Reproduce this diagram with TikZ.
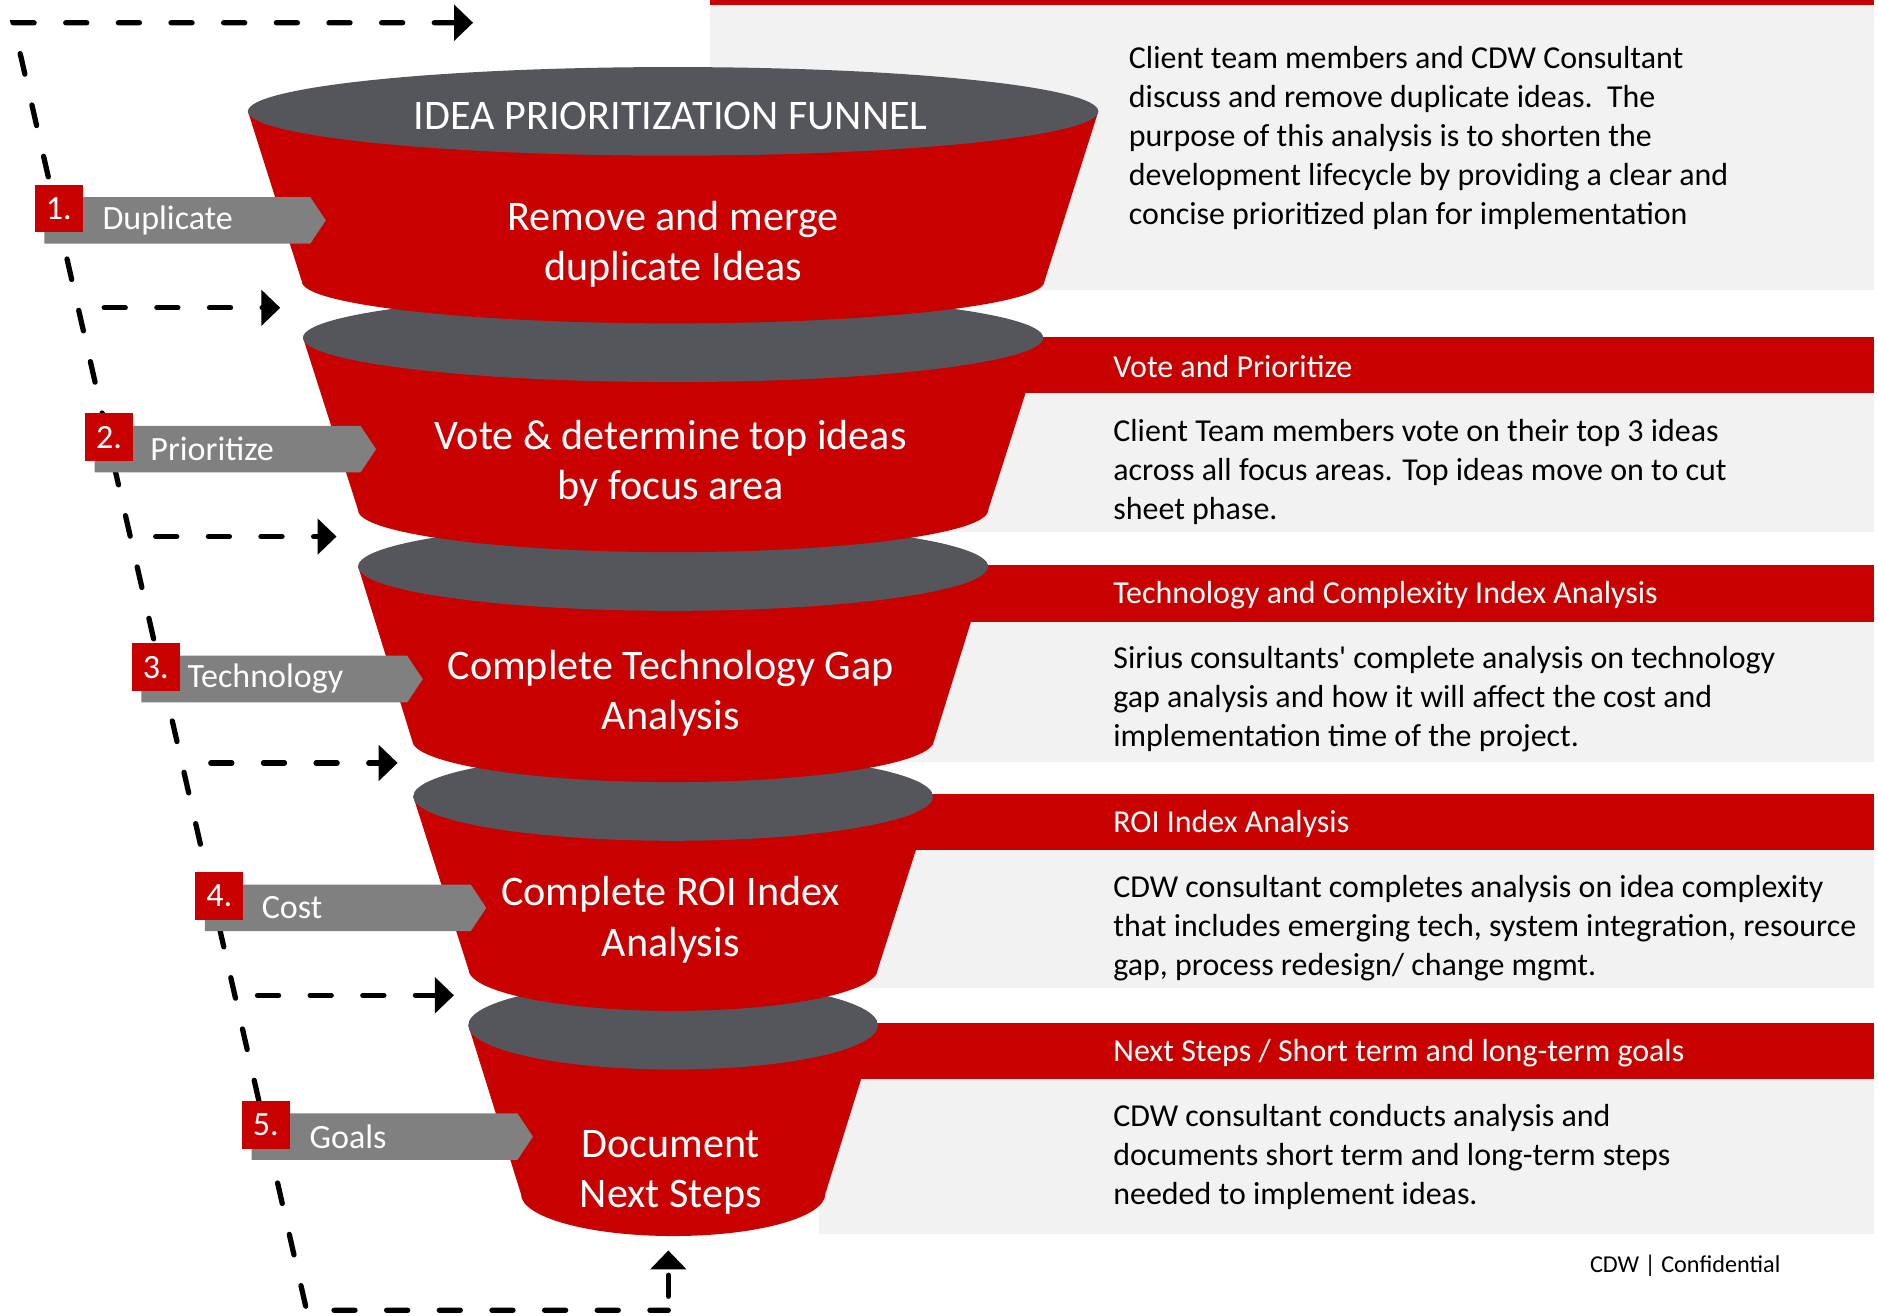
\documentclass[tikz,border=0pt]{standalone}
\usepackage{fontspec}
\setmainfont{Carlito}
\usetikzlibrary{arrows.meta}
\definecolor{cdwred}{HTML}{C80000}
\definecolor{cupgray}{HTML}{55565B}
\definecolor{tabgray}{HTML}{808080}
\definecolor{panelgray}{HTML}{F2F2F2}
\tikzset{
  stagetext/.style={text=white,align=center,inner sep=0pt,font=\fontsize{12}{14.3}\selectfont},
  paneltext/.style={anchor=west,align=left,inner sep=0pt,font=\fontsize{9.1}{11.1}\selectfont},
  headtext/.style={paneltext,text=white},
  tabtext/.style={anchor=west,inner sep=0pt,text=white,font=\fontsize{9.7}{11}\selectfont},
  numbox/.style={fill=cdwred,text=white,minimum size=13.6pt,inner sep=0pt,font=\fontsize{9.7}{11}\selectfont},
  dashflow/.style={line width=1.5pt,dash pattern=on 6pt off 9pt,line cap=round},
  flowtip/.style={-{Triangle[length=5.4pt,width=10pt]}},
}
\begin{document}
\begin{tikzpicture}[x=0.012cm,y=-0.012cm]
\useasboundingbox (0,0) rectangle (1568,1098);
\fill[cdwred] (593,0) rectangle (1565,4);
\fill[panelgray] (593,4) rectangle (1565,242);
\foreach \t/\b in {281/444,472/636,663/825,854/1030}{
  \fill[cdwred] (684,\t) rectangle (1565,\t+47);
  \fill[panelgray] (684,\t+47) rectangle (1565,\b);
}
\foreach \k/\yt/\rt/\yb/\rb in {5/856/171/997/127,4/665/217/809/171,3/473/263/618/218,2/282/309/426/263,1/93/355/235/310}{
  \fill[cdwred] (562-\rt,\yt) -- (562-\rb,\yb) arc[start angle=180,end angle=0,x radius=\rb,y radius=35] -- (562+\rt,\yt) -- cycle;
  \fill[cupgray] (562,\yt) ellipse[x radius=\rt,y radius=37];
}
\node[stagetext] (ttl) at (560,97) {IDEA PRIORITIZATION FUNNEL};
\node[stagetext] (seg1) at (562,204) {Remove and merge\\duplicate Ideas};
\node[stagetext] (seg2) at (560,387) {Vote \& determine top ideas\\by focus area};
\node[stagetext] (seg3) at (560,579) {Complete Technology Gap\\Analysis};
\node[stagetext] (seg4) at (560,768) {Complete ROI Index\\Analysis};
\node[stagetext] (seg5) at (560,979) {Document\\Next Steps};

\node[paneltext] (txt1) at (942,115) {Client team members and CDW Consultant\\discuss and remove duplicate ideas.\ \ The\\purpose of this analysis is to shorten the\\development lifecycle by providing a clear and\\concise prioritized plan for implementation};
\node[headtext] (hd2) at (929,306) {Vote and Prioritize};
\node[paneltext] (txt2) at (929,394) {Client Team members vote on their top 3 ideas\\across all focus areas. Top ideas move on to cut\\sheet phase.};
\node[headtext] (hd3) at (929,497) {Technology and Complexity Index Analysis};
\node[paneltext] (txt3) at (929,584) {Sirius consultants\textquotesingle{} complete analysis on technology\\gap analysis and how it will affect the cost and\\implementation time of the project.};
\node[headtext] (hd4) at (929,688) {ROI Index Analysis};
\node[paneltext] (txt4) at (929,775) {CDW consultant completes analysis on idea complexity\\that includes emerging tech, system integration, resource\\gap, process redesign/ change mgmt.};
\node[headtext] (hd5) at (929,879) {Next Steps / Short term and long-term goals};
\node[paneltext] (txt5) at (929,966) {CDW consultant conducts analysis and\\documents short term and long-term steps\\needed to implement ideas.};
\node[inner sep=0pt,font=\fontsize{6.9}{8}\selectfont] (foot) at (1407,1057) {CDW | Confidential};

\coordinate (intop) at (395,19);
\coordinate (corner) at (11,19);
\coordinate (cornerb) at (256,1094);
\coordinate (turn) at (558,1094);
\coordinate (outbot) at (558,1044);
\draw[dashflow,{Triangle[length=5.4pt,width=10pt]}-] (intop) -- (corner) -- (cornerb) -- (turn);
\draw[dashflow,flowtip,dash phase=11pt] (turn) -- (outbot);
\foreach \i/\y/\xs/\xe in {1/257/87/234,2/448/130/281,3/637/176/332,4/831/215/379}{
  \coordinate (from\i) at (\xs,\y);
  \coordinate (to\i) at (\xe,\y);
  \draw[dashflow,flowtip] (from\i) -- (to\i);
}
\foreach \i/\x/\y/\o/\t in {1/37/184/48/Duplicate,2/79/375/46/Prioritize,3/118/567/38/Technology,4/171/758/47/Cost,5/210/949/48/Goals}{
  \fill[tabgray] (\x,\y-19.5) -- ++(222,0) -- ++(13,19.5) -- ++(-13,19.5) -- ++(-222,0) -- cycle;
  \node[numbox] (num\i) at (\x+12,\y-10) {\i.};
  \node[tabtext] (tab\i) at (\x+\o,\y) {\t};
}
\end{tikzpicture}
\end{document}
